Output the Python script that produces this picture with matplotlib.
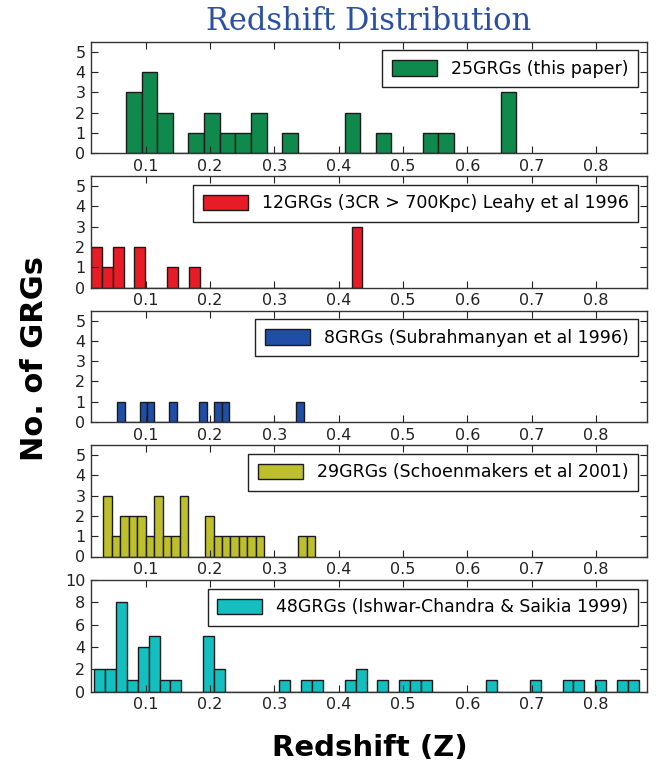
import numpy as np
import matplotlib
matplotlib.use('Agg')
import matplotlib.pyplot as plt

# histogram ranges (redshift) and counts per bin
green_range = (0.0694, 0.6764)
green_counts = [3, 4, 2, 0, 1, 2, 1, 1, 2, 0, 1, 0, 0, 0, 2, 0, 1, 0, 0, 1, 1, 0, 0, 0, 3]

red_range = (0.0149, 0.4370)
red_counts = [2, 1, 2, 0, 2, 0, 0, 1, 0, 1, 0, 0, 0, 0, 0, 0, 0, 0, 0, 0, 0, 0, 0, 0, 3]

blue_range = (0.0558, 0.3454)
blue_counts = [1, 0, 0, 1, 1, 0, 0, 1, 0, 0, 0, 1, 0, 1, 1, 0, 0, 0, 0, 0, 0, 0, 0, 0, 1]

olive_range = (0.0340, 0.3638)
olive_counts = [3, 1, 2, 2, 2, 1, 3, 1, 1, 3, 0, 0, 2, 1, 1, 1, 1, 1, 1, 0, 0, 0, 0, 1, 1]

cyan_range = (0.0200, 0.8667)
cyan_counts = [2, 2, 8, 1, 4, 5, 1, 1, 0, 0, 5, 2, 0, 0, 0, 0, 0, 1, 0, 1,
               1, 0, 0, 1, 2, 0, 1, 0, 1, 1, 1, 0, 0, 0, 0, 0, 1, 0, 0, 0,
               1, 0, 0, 1, 1, 0, 1, 0, 1, 1]

labels = ['25GRGs (this paper)',
          '12GRGs (3CR > 700Kpc) Leahy et al 1996',
          '8GRGs (Subrahmanyan et al 1996)',
          '29GRGs (Schoenmakers et al 2001)',
          '48GRGs (Ishwar-Chandra & Saikia 1999)']
colors = ['#0f8a4c', '#e81c27', '#1f4ea6', '#bdbf2c', '#14bfbf']
ymaxes = [5.5, 5.5, 5.5, 5.5, 10]
yticks = [range(0, 6), range(0, 6), range(0, 6), range(0, 6), range(0, 11, 2)]

series = [(green_range, green_counts), (red_range, red_counts), (blue_range, blue_counts),
          (olive_range, olive_counts), (cyan_range, cyan_counts)]

W, H = 659, 764
fig = plt.figure(figsize=(W/100, H/100), dpi=100)

left, right = 91, 646.7
tops = [41.7, 176, 310.5, 445, 580]
ph = 111.5

for i, ((zr, counts), lab, col) in enumerate(zip(series, labels, colors)):
    ax = fig.add_axes([left/W, 1 - (tops[i]+ph)/H, (right-left)/W, ph/H])
    edges = np.linspace(zr[0], zr[1], len(counts)+1)
    ax.hist(edges[:-1], bins=edges, weights=counts, color=col, edgecolor='#1a1a1a',
            linewidth=1.0, label=lab)
    ax.set_xlim(0.015, 0.879)
    ax.set_ylim(0, ymaxes[i])
    ax.set_yticks(list(yticks[i]))
    ax.set_xticks([0.1, 0.2, 0.3, 0.4, 0.5, 0.6, 0.7, 0.8])
    ax.set_xticklabels(['0.1', '0.2', '0.3', '0.4', '0.5', '0.6', '0.7', '0.8'])
    ax.tick_params(direction='in', top=True, right=True, length=5, width=0.8,
                   labelsize=11.5, colors='#222222', pad=4)
    for s in ax.spines.values():
        s.set_color('#333333')
        s.set_linewidth(1.0)
    leg = ax.legend(loc='upper right', fontsize=12.5, fancybox=False, framealpha=1,
                    edgecolor='#222222', handlelength=2.6, handleheight=1.0,
                    borderpad=0.55, handletextpad=0.8, borderaxespad=0.5)
    leg.get_frame().set_linewidth(1.0)

fig.text((left+right)/2/W, 1 - 22/H, 'Redshift Distribution', ha='center', va='center',
         family='DejaVu Serif', fontsize=22, color='#2b50a3')
fig.text(35/W, 1 - 358/H, 'No. of GRGs', rotation=90, ha='center', va='center',
         fontsize=22, fontweight='bold', color='black')
fig.text(370/W, 1 - 748/H, 'Redshift (Z)', ha='center', va='center',
         fontsize=21, fontweight='bold', color='black')

fig.savefig('out.png', dpi=100)
